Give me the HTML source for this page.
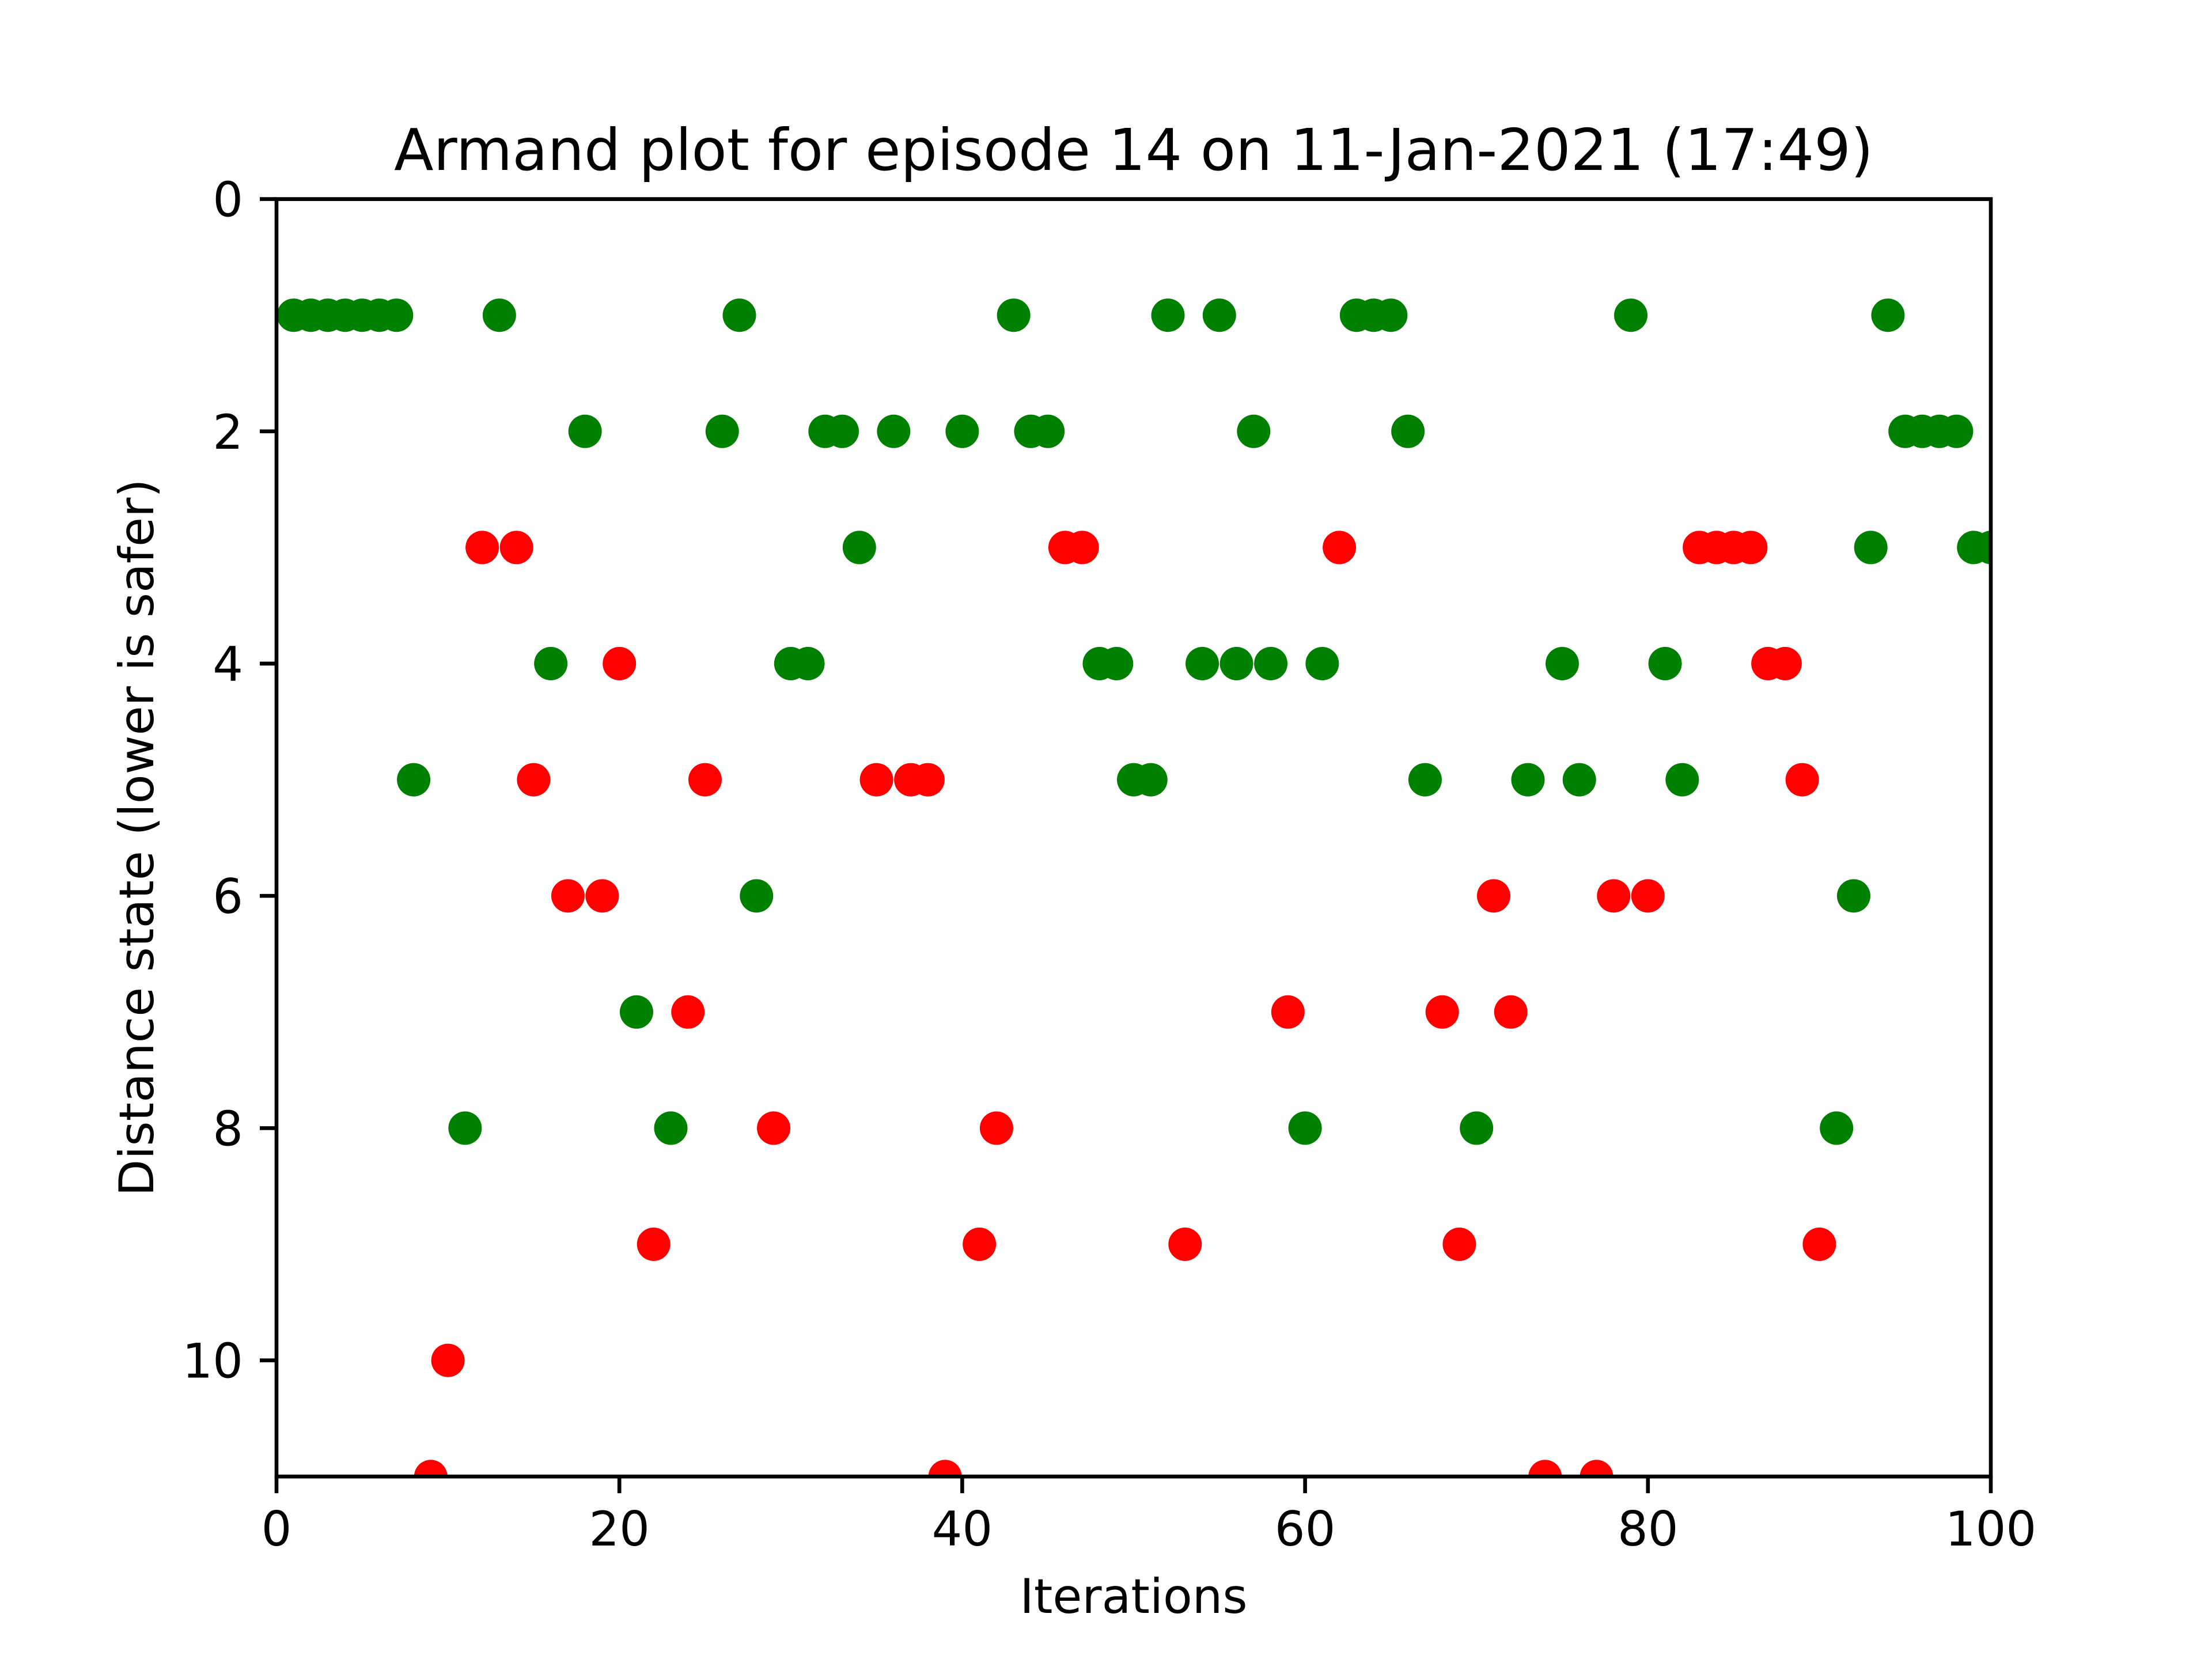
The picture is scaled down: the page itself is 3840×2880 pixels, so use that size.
<!DOCTYPE html>
<html><head><meta charset="utf-8"><style>html,body{margin:0;padding:0;background:#fff}svg{display:block}</style></head>
<body>
<svg id="chart" xmlns="http://www.w3.org/2000/svg" width="3840" height="2880" viewBox="0 0 3840 2880" font-family="'DejaVu Sans','Liberation Sans',sans-serif">
<rect width="3840" height="2880" fill="#fff"/>
<text x="1968" y="295" font-size="100" text-anchor="middle">Armand plot for episode 14 on 11-Jan-2021 (17:49)</text>
<defs><clipPath id="clip"><rect x="480" y="345.6" width="2976" height="2217.6"/></clipPath></defs>
<g id="points" clip-path="url(#clip)"></g>
<g id="axes"></g>
<text x="1968" y="2800" font-size="83" text-anchor="middle">Iterations</text>
<text transform="translate(266,1454) rotate(-90)" font-size="83" text-anchor="middle">Distance state (lower is safer)</text>
</svg>
<script>
const iterations = [];
for (let i = 1; i <= 100; i++) iterations.push(i);
const states = [1,1,1,1,1,1,1,5,11,10,8,3,1,3,5,4,6,2,6,4,7,9,8,7,5,2,1,6,8,4,4,2,2,3,5,2,5,5,11,2,9,8,1,2,2,3,3,4,4,5,5,1,9,4,1,4,2,4,7,8,4,3,1,1,1,2,5,7,9,8,6,7,5,11,4,5,11,6,1,6,4,5,3,3,3,3,4,4,5,9,8,6,3,1,2,2,2,2,3,3];
const colors = ("ggggggggrr"+"grgrrgrgrr"+"grgrrgggrg"+"ggggrgrrrg"+"rrgggrrggg"+"ggrgggggrg"+"grgggggrrg"+"rrgrggrrgr"+"ggrrrrrrrr"+"gggggggggg").split("");
const xTicks = [0,20,40,60,80,100];
const yTicks = [0,2,4,6,8,10];
const L=480,R=3456,T=345.6,B=2563.2;
const xs = v => L + (v-0)/(100-0)*(R-L);
const ys = v => T + (v-0)/(11-0)*(B-T);
const NS="http://www.w3.org/2000/svg";
function mk(tag, attrs, parent){const e=document.createElementNS(NS,tag);for(const k in attrs)e.setAttribute(k,attrs[k]);parent.appendChild(e);return e;}
const pg=document.getElementById('points'), ag=document.getElementById('axes');
iterations.forEach((it,i)=>{
  const c=mk('circle',{cx:xs(it),cy:ys(states[i]),r:29,fill:colors[i]==='g'?'#008000':'#ff0000'},pg);
  
  
});
const frame=mk('rect',{x:L,y:T,width:R-L,height:B-T,fill:'none',stroke:'#000','stroke-width':6.67},ag);


xTicks.forEach(t=>{
  const x=xs(t);
  const tk=mk('line',{x1:x,x2:x,y1:B,y2:B+29,stroke:'#000','stroke-width':6.67},ag);
  
  
  const tx=mk('text',{x:x,y:B+120,'font-size':83,'text-anchor':'middle'},ag);
  tx.textContent=t;
  
  
});
yTicks.forEach(t=>{
  const y=ys(t);
  const tk=mk('line',{x1:L-29,x2:L,y1:y,y2:y,stroke:'#000','stroke-width':6.67},ag);
  
  
  const tx=mk('text',{x:L-58,y:y+30,'font-size':83,'text-anchor':'end'},ag);
  tx.textContent=t;
  
  
});
</script>
</body></html>
